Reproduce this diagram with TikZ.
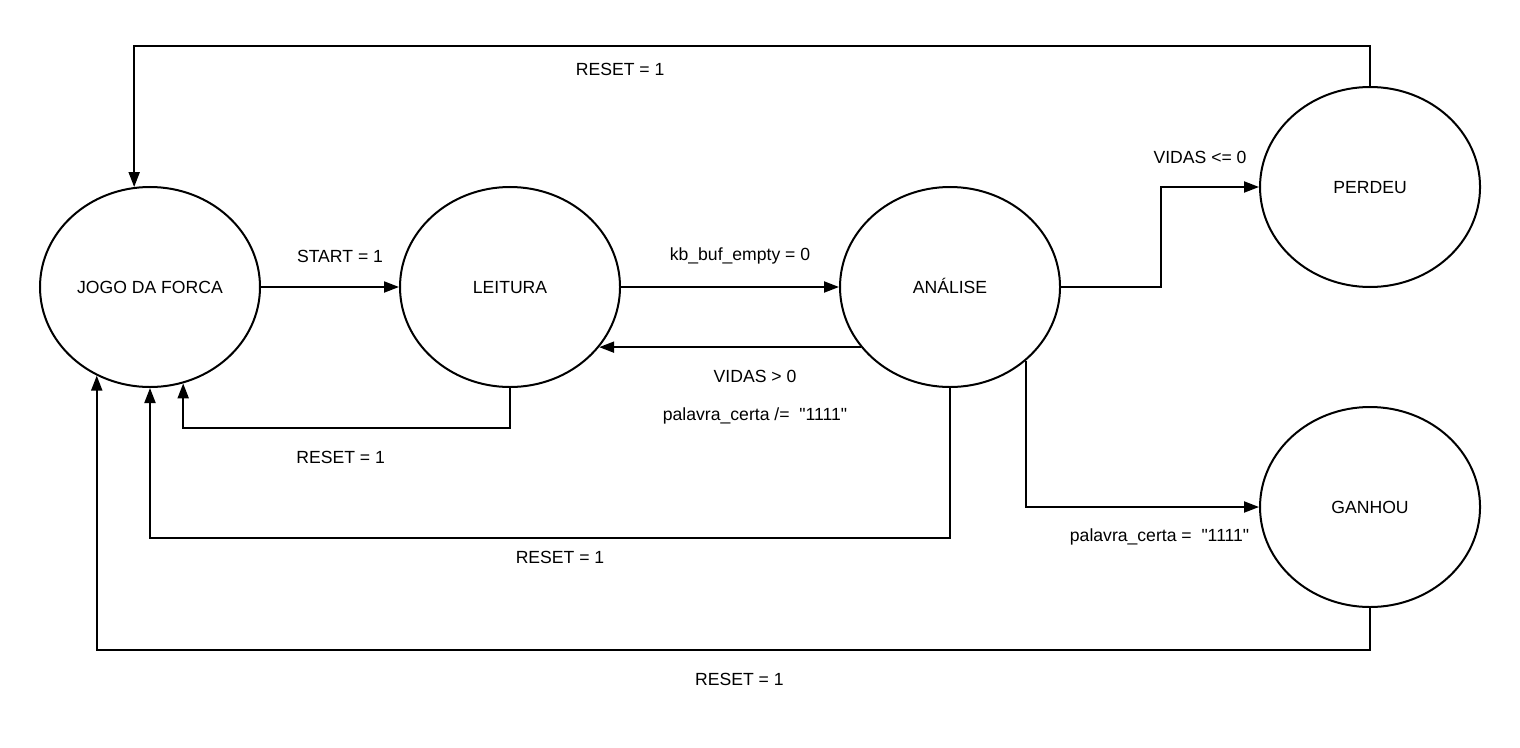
\documentclass[tikz,border=0pt]{standalone}
\usepackage{fontspec}
\setmainfont{Liberation Sans}
\usetikzlibrary{positioning,shapes.geometric,arrows.meta}
\def\dx{69bp}
\def\dy{50bp}
\tikzstyle{state}=[draw,ellipse,minimum width=110bp,minimum height=100bp,inner sep=0pt,
  text height=6.4bp,text depth=0bp]
\tikzstyle{cond}=[inner sep=0pt]
\newcommand{\addState}[3]{\node[state](#1)[#3]{#2};}
\newcommand{\qt}{\textquotedbl}
\begin{document}
\begin{tikzpicture}[x=0.5bp,y=-0.5bp,
    >={Triangle[length=7.5bp,width=5.5bp]},
    line width=1bp,
    font=\fontsize{8.8bp}{10.5bp}\selectfont
    ]
    \useasboundingbox (0,0) rectangle (1520,748);
    \node[state] (jogo) at (150,287) {JOGO DA FORCA};
    \addState{leitura}{LEITURA}{right=\dx of jogo}
    \addState{analise}{ANÁLISE}{right=109bp of leitura}
    \addState{perdeu}{PERDEU}{right=99bp of analise,yshift=\dy}
    \addState{ganhou}{GANHOU}{right=99bp of analise,yshift=-110bp}
    % transitions
    \draw[->] (jogo) -- (leitura)
      node[cond,midway,xshift=5bp,yshift=15.5bp] {START = 1};
    \draw[->] (leitura) -- (analise)
      node[cond,midway,xshift=5bp,yshift=15.5bp] {kb\_buf\_empty = 0};
    \draw[->] (analise.214) -- (leitura.326)
      node[cond,midway,xshift=12.5bp,yshift=-14.5bp] {VIDAS > 0}
      node[cond,midway,xshift=12.5bp,yshift=-34.5bp] {palavra\_certa /=\ \ \qt1111\qt};
    \draw[->] (analise.east) -- ++(100,0) |- (perdeu.west)
      node[cond,pos=0.75,xshift=-5bp,yshift=15bp] {VIDAS <= 0};
    \draw[->] (analise.316) |- (ganhou.west)
      node[cond,pos=0.75,xshift=8.5bp,yshift=-15bp] {palavra\_certa =\ \ \qt1111\qt};
    % reset
    \draw[->] (leitura.south) -- ++(0,40) -| (jogo.289)
      node[cond,pos=0.25,xshift=-3bp,yshift=-14.5bp] {RESET = 1};
    \draw[->] (analise.south) -- ++(0,150) -| (jogo.south)
      node[cond,pos=0.25,xshift=5bp,yshift=-9.5bp] {RESET = 1};
    \draw[->] (ganhou.south) -- ++(0,42) -| (jogo.239)
      node[cond,pos=0.25,xshift=3bp,yshift=-14.5bp] {RESET = 1};
    \draw[->] (perdeu.north) -- ++(0,-40) -| (jogo.99)
      node[cond,pos=0.25,xshift=-66bp,yshift=-11.5bp] {RESET = 1};
\end{tikzpicture}
\end{document}
